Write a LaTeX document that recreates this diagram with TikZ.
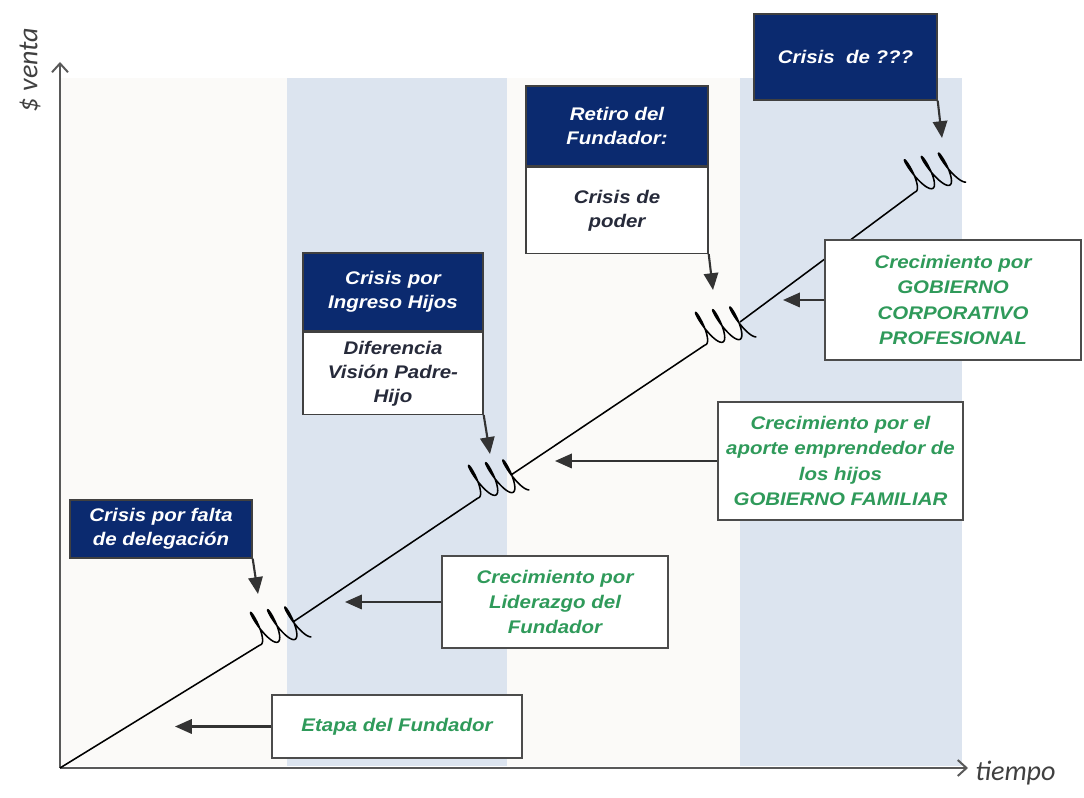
\documentclass[tikz,border=0pt]{standalone}
\usepackage{fontspec}
\usetikzlibrary{arrows.meta, positioning}
\newfontfamily\boxfont[FakeStretch=1.12]{Liberation Sans}
\newfontfamily\axisfont{Carlito}
\definecolor{navy}{HTML}{0B2A6F}
\definecolor{beige}{HTML}{FBFAF8}
\definecolor{band}{HTML}{DCE4EF}
\definecolor{leaf}{HTML}{2F9A5A}
\definecolor{ink}{HTML}{262A3A}
\begin{document}
\begin{tikzpicture}[line width = 1pt,
	crisis/.style = {draw = black!75, fill = navy, text = white, align = center, inner sep = 0pt,
		font = \boxfont\bfseries\itshape\fontsize{13}{17}\selectfont},
	detail/.style = {draw = black!75, fill = white, text = ink, align = center, inner sep = 0pt,
		font = \boxfont\bfseries\itshape\fontsize{13}{17}\selectfont},
	growthbox/.style = {draw = black!70, fill = white, text = leaf, align = center, inner sep = 0pt,
		font = \boxfont\bfseries\itshape\fontsize{13}{18}\selectfont},
	pointer/.style = {draw = black!80, line width = 1.5pt, -{Triangle[length = .42cm, width = .36cm]}},
	axis/.style = {draw = black!65, line width = 1.4pt, -{Straight Barb[length = .22cm, width = .4cm]}},
	axislabel/.style = {text = black!75, font = \axisfont\itshape\fontsize{20}{22}\selectfont},
	growth/.style = {draw = black, line width = 1.1pt, line join = round},
	spring/.pic = {\draw[growth] plot[domain = 0:1080, samples = 160, smooth, variable = \t]
		({.069*\t/57.2958 + .11*sin(\t) - .16*(1-cos(\t))}, {.42*(1-cos(\t))});}]
	\useasboundingbox (0,0) rectangle (27.1,19.95);
	\fill[beige] (1.5,.8) rectangle (24.05,18);
	\fill[band] (7.175,.8) rectangle (12.675,18);
	\fill[band] (18.5,.8) rectangle (24.05,18);

	\coordinate (O) at (1.5,.75);
	\coordinate (ytip) at (1.5,18.4);
	\coordinate (xtip) at (24.2,.75);
	\draw[axis] (O) -- (ytip);
	\draw[axis] (O) -- (xtip);
	\node[axislabel, rotate = 90] (venta) at (.75,18.2) {\$ venta};
	\node[axislabel, anchor = west] (tiempo) at (24.25,.62) {tiempo};

	\coordinate (A1) at (6.5,3.825);
	\coordinate (R1) at (7.325,4.4);
	\coordinate (A2) at (11.95,7.5);
	\coordinate (R2) at (12.775,8.075);
	\coordinate (A3) at (17.625,11.325);
	\coordinate (R3) at (18.5,11.9);
	\coordinate (A4) at (22.875,15.15);
	\draw[growth] (O) -- (A1);
	\draw[growth] (R1) -- (A2);
	\draw[growth] (R2) -- (A3);
	\draw[growth] (R3) -- (A4);
	\pic[rotate = 9] at (A1) {spring};
	\pic[rotate = 9] at (A2) {spring};
	\pic[rotate = 9] at (A3) {spring};
	\pic[rotate = 11] at (A4) {spring};

	\node[crisis, minimum width = 4.55cm, minimum height = 1.45cm] (c1) at (4.025,6.725) {Crisis por falta\\de delegación};
	\node[crisis, minimum width = 4.5cm, minimum height = 1.95cm] (c2) at (9.825,12.65) {Crisis por\\Ingreso Hijos};
	\node[detail, minimum width = 4.5cm, minimum height = 2.05cm, below = 0pt of c2] (d2) {Diferencia\\Visión Padre-\\Hijo};
	\node[crisis, minimum width = 4.55cm, minimum height = 2cm] (c3) at (15.425,16.8) {Retiro del\\Fundador:};
	\node[detail, minimum width = 4.55cm, minimum height = 2.15cm, below = 0pt of c3] (d3) {Crisis de\\poder};
	\node[crisis, minimum width = 4.575cm, minimum height = 2.15cm] (c4) at (21.1375,18.525) {Crisis~ de ???};

	\coordinate (t1) at (6.45,5.1);
	\coordinate (t2) at (12.25,8.6);
	\coordinate (t3) at (17.825,12.7);
	\coordinate (t4) at (23.55,16.5);
	\draw[pointer] (c1.south east) -- (t1);
	\draw[pointer] (d2.south east) -- (t2);
	\draw[pointer] (d3.south east) -- (t3);
	\draw[pointer] (c4.south east) -- (t4);

	\node[growthbox, minimum width = 6.25cm, minimum height = 1.575cm] (g1) at (9.925,1.7875) {Etapa del Fundador};
	\node[growthbox, minimum width = 5.65cm, minimum height = 2.3cm] (g2) at (13.875,4.9) {Crecimiento por\\Liderazgo del\\Fundador};
	\node[growthbox, minimum width = 6.125cm, minimum height = 2.95cm] (g3) at (21.0125,8.425) {Crecimiento por el\\aporte emprendedor de\\los hijos\\GOBIERNO FAMILIAR};
	\node[growthbox, minimum width = 6.4cm, minimum height = 3cm] (g4) at (23.825,12.45) {Crecimiento por\\GOBIERNO\\CORPORATIVO\\PROFESIONAL};

	\coordinate (a1) at (4.375,1.7875);
	\coordinate (a2) at (8.625,4.9);
	\coordinate (a3) at (13.875,8.425);
	\coordinate (a4) at (19.575,12.45);
	\draw[pointer] (g1.west) -- (a1);
	\draw[pointer] (g2.west) -- (a2);
	\draw[pointer] (g3.west) -- (a3);
	\draw[pointer] (g4.west) -- (a4);
\end{tikzpicture}
\end{document}
